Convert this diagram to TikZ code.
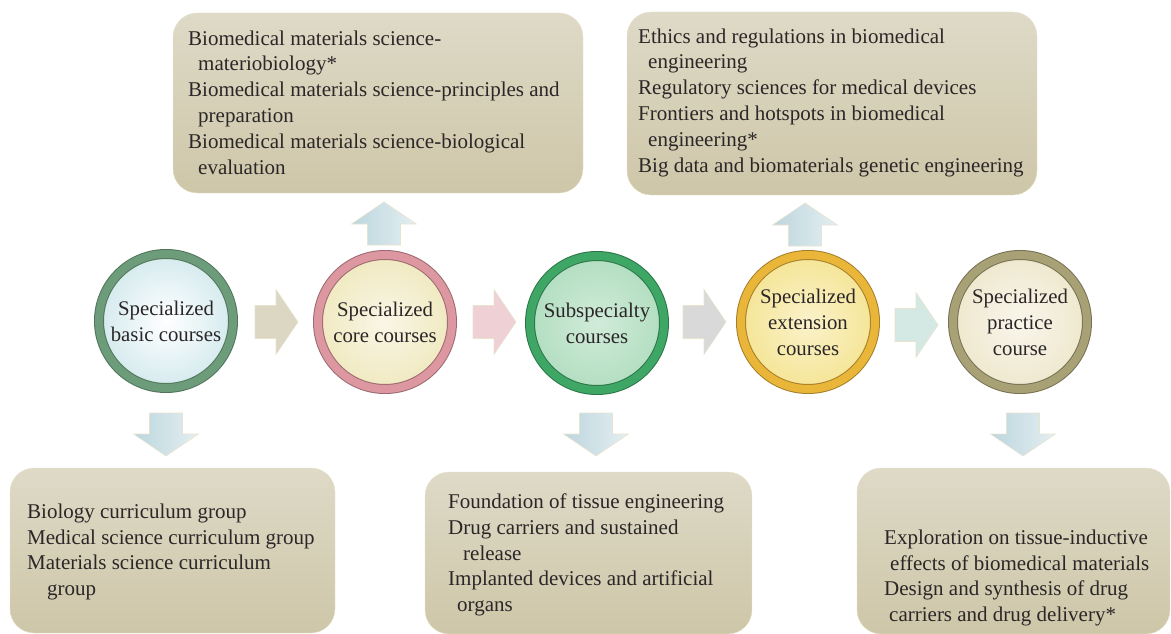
\documentclass[tikz,border=0pt]{standalone}
\usepackage{fontspec}
\setmainfont{Liberation Serif}
\usetikzlibrary{positioning,shadings}

\definecolor{ringA}{HTML}{6C9C7A}
\definecolor{fillA}{HTML}{D4EAEE}
\definecolor{ringB}{HTML}{DC97A0}
\definecolor{fillB}{HTML}{F0E9C0}
\definecolor{ringC}{HTML}{3FA766}
\definecolor{fillC}{HTML}{B2DEC0}
\definecolor{ringD}{HTML}{EAB63A}
\definecolor{fillD}{HTML}{F5E596}
\definecolor{ringE}{HTML}{A9A176}
\definecolor{fillE}{HTML}{EFE8CE}
\definecolor{boxtop}{HTML}{DEDAC7}
\definecolor{boxbot}{HTML}{CEC6A8}
\definecolor{boxedge}{HTML}{E8E3CF}
\definecolor{arrblue}{HTML}{BCD6DE}
\definecolor{inktext}{HTML}{2B2627}

\begin{document}
\begin{tikzpicture}[
x=1pt, y=-1pt,
course/.style={
  circle,
  minimum size=134pt,
  inner sep=0pt,
  align=center,
  font=\fontsize{20.8}{26}\selectfont,
  text=inktext,
  line width=1pt,
  double distance=8pt,
  shading=radial
  },
courseA/.style={course, draw=ringA!75!black, double=ringA, inner color=white, outer color=fillA},
courseB/.style={course, draw=ringB!70!black, double=ringB, inner color=white!60!fillB, outer color=fillB},
courseC/.style={course, draw=ringC!70!black, double=ringC, inner color=white!40!fillC, outer color=fillC},
courseD/.style={course, draw=ringD!70!black, double=ringD, inner color=white!50!fillD, outer color=fillD},
courseE/.style={course, draw=ringE!70!black, double=ringE, inner color=white!60!fillE, outer color=fillE},
listbox/.style={
  rectangle,
  rounded corners=24pt,
  draw=boxedge,
  top color=boxtop,
  bottom color=boxbot,
  inner sep=0pt
  },
listtext/.style={
  anchor=west,
  align=left,
  inner sep=0pt,
  font=\fontsize{21}{25.8}\selectfont,
  text=inktext
  },
pics/blockarr/.style={
  code={\path[draw=boxedge, line width=0.6pt, #1]
    (0,-16.5) -- (21,-16.5) -- (21,-32.5) -- (43,0) -- (21,32.5) -- (21,16.5) -- (0,16.5) -- cycle;}
  },
>=latex
]
\useasboundingbox (0,0) rectangle (1171,634);

% course circles
\node[courseA] (basic) at (166,321) {Specialized\\basic courses};
\node[courseB] (core) at (385,322) {Specialized\\core courses};
\node[courseC] (subsp) at (597,323) {Subspecialty\\courses};
\node[courseD] (ext) at (808,322) {Specialized\\extension\\courses};
\node[courseE] (prac) at (1020,322) {Specialized\\practice\\course};

% arrows between the circles
\pic (r1) at (255,322) {blockarr={fill=boxtop!85!boxbot}};
\pic (r2) at (473,322) {blockarr={fill=ringB!45!white}};
\pic (r3) at (683,322) {blockarr={fill=black!15!white}};
\pic (r4) at (895,325) {blockarr={fill=fillC!45!arrblue!60!white}};

% arrows to the lists
\pic[rotate=90] (u1) at (384,245) {blockarr={left color=arrblue, right color=arrblue!40!white}};
\pic[rotate=90] (u2) at (805,246) {blockarr={left color=arrblue, right color=arrblue!40!white}};
\pic[rotate=-90] (d1) at (166,413) {blockarr={left color=arrblue, right color=arrblue!40!white}};
\pic[rotate=-90] (d2) at (596,413) {blockarr={left color=arrblue, right color=arrblue!40!white}};
\pic[rotate=-90] (d3) at (1023,413) {blockarr={left color=arrblue, right color=arrblue!40!white}};

% list boxes
\node[listbox, minimum width=410pt, minimum height=180pt] (corebox) at (378,103) {};
\node[listbox, minimum width=410pt, minimum height=183pt] (extbox) at (832,103.5) {};
\node[listbox, minimum width=325pt, minimum height=165pt] (basicbox) at (172.5,550.5) {};
\node[listbox, minimum width=327pt, minimum height=162pt] (subspbox) at (588.5,553) {};
\node[listbox, minimum width=313pt, minimum height=166pt] (pracbox) at (1013.5,551) {};

\node[listtext] (corelist) at (188,102.5) {Biomedical materials science-\\\hspace*{10pt}materiobiology*\\Biomedical materials science-principles and\\\hspace*{10pt}preparation\\Biomedical materials science-biological\\\hspace*{10pt}evaluation};
\node[listtext] (extlist) at (638,102.5) {Ethics and regulations in biomedical\\\hspace*{10pt}engineering\\Regulatory sciences for medical devices\\Frontiers and hotspots in biomedical\\\hspace*{10pt}engineering*\\Big data and biomaterials genetic engineering};
\node[listtext] (basiclist) at (27,552) {Biology curriculum group\\Medical science curriculum group\\Materials science curriculum\\\hspace*{20pt}group};
\node[listtext] (subsplist) at (448,555) {Foundation of tissue engineering\\Drug carriers and sustained\\\hspace*{15pt}release\\Implanted devices and artificial\\\hspace*{9pt}organs};
\node[listtext] (praclist) at (884,578) {Exploration on tissue-inductive\\\hspace*{6pt}effects of biomedical materials\\Design and synthesis of drug\\\hspace*{5pt}carriers and drug delivery*};
\end{tikzpicture}
\end{document}
